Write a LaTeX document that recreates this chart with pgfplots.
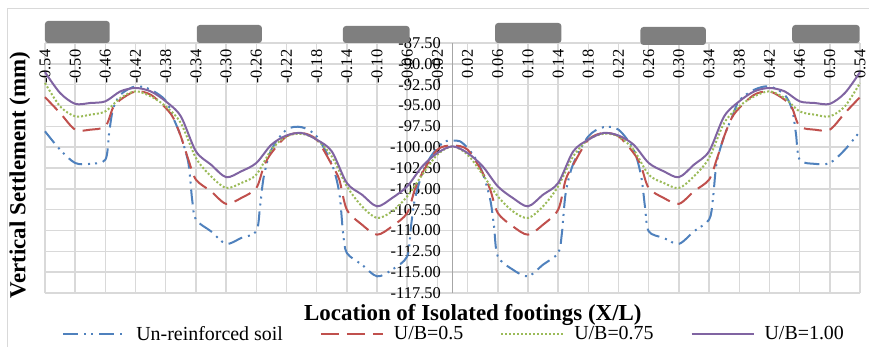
\documentclass[border=0pt]{standalone}
\usepackage{pgfplots}
\pgfplotsset{compat=1.18}
\usepackage{fontspec}
\setmainfont{Liberation Serif}
\definecolor{cblue}{HTML}{4F81BD}
\definecolor{cred}{HTML}{C0504D}
\definecolor{cgreen}{HTML}{9BBB59}
\definecolor{cpurple}{HTML}{8064A2}
\definecolor{gridc}{HTML}{D9D9D9}
\definecolor{axisc}{HTML}{A6A6A6}
\definecolor{footc}{HTML}{7F7F7F}
\begin{document}
\begin{tikzpicture}
\useasboundingbox (0,0) rectangle (869bp,347bp);
\draw[color=gridc, line width=1bp] (7.5bp,0) -- (7.5bp,338.5bp) -- (869bp,338.5bp);
\begin{axis}[
 at={(45bp,54bp)}, anchor=south west, scale only axis,
 width=815bp, height=250bp,
 xmin=-0.54, xmax=0.54, ymin=-117.5, ymax=-87.5,
 clip=false,
 axis line style={draw=none},
 major tick length=0pt,
 xtick={-0.54,-0.50,-0.46,-0.42,-0.38,-0.34,-0.30,-0.26,-0.22,-0.18,-0.14,-0.10,-0.06,-0.02,0.02,0.06,0.10,0.14,0.18,0.22,0.26,0.30,0.34,0.38,0.42,0.46,0.50,0.54},
 ytick={-117.5,-115,-112.5,-110,-107.5,-105,-102.5,-100,-97.5,-95,-92.5,-90,-87.5},
 grid=major,
 major grid style={color=gridc, line width=1.5bp},
 extra x ticks={0}, extra x tick labels={},
 extra x tick style={major grid style={color=axisc, line width=1.5bp}},
 scaled ticks=false,
 /pgf/number format/fixed,
 /pgf/number format/fixed zerofill,
 /pgf/number format/precision=2,
 /pgf/number format/assume math mode=true,
 tick label style={font=\fontsize{16.5}{18}\selectfont},
 xticklabel pos=upper,
 xticklabel style={rotate=90, anchor=east, inner xsep=6.5bp},
 ytick pos=left,
 yticklabel style={anchor=east, inner sep=0pt, xshift=396bp},
 legend style={at={(axis description cs:0.502,-0.164)}, anchor=center, draw=none, fill=none,
   font=\fontsize{20}{22}\selectfont, legend columns=4,
   /tikz/every even column/.append style={column sep=35bp}},
 legend cell align=left,
 legend image code/.code={\draw[#1] (0bp,0bp) -- (62bp,0bp); \path (70bp,0bp);},
]
\addplot[color=cblue, line width=2bp, smooth, dash pattern=on 15bp off 6bp on 2bp off 5bp on 2bp off 6bp] table {
-0.54 -98.1
-0.52 -100.3
-0.50 -101.9
-0.48 -102.0
-0.46 -101.5
-0.455 -98.3
-0.45 -95.5
-0.44 -93.7
-0.42 -92.7
-0.40 -93.1
-0.38 -94.4
-0.37 -96.5
-0.36 -98.7
-0.35 -101.9
-0.345 -106.3
-0.34 -108.7
-0.32 -110.1
-0.30 -111.6
-0.28 -110.9
-0.26 -110.1
-0.255 -107.1
-0.25 -103.5
-0.24 -100.3
-0.22 -97.9
-0.20 -97.6
-0.18 -98.7
-0.16 -102.0
-0.15 -105.5
-0.145 -110.3
-0.14 -112.7
-0.12 -114.1
-0.10 -115.5
-0.08 -114.7
-0.06 -113.1
-0.055 -109.5
-0.05 -106.3
-0.04 -103.1
-0.03 -101.3
-0.02 -100.1
-0.01 -99.3
0 -99.2
0.01 -99.3
0.02 -100.1
0.03 -101.3
0.04 -103.1
0.05 -106.3
0.055 -109.5
0.06 -113.1
0.08 -114.7
0.10 -115.5
0.12 -114.1
0.14 -112.7
0.145 -110.3
0.15 -105.5
0.16 -102.0
0.18 -98.7
0.20 -97.6
0.22 -97.9
0.24 -100.3
0.25 -103.5
0.255 -107.1
0.26 -110.1
0.28 -110.9
0.30 -111.6
0.32 -110.1
0.34 -108.7
0.345 -106.3
0.35 -101.9
0.36 -98.7
0.37 -96.5
0.38 -94.4
0.40 -93.1
0.42 -92.7
0.44 -93.7
0.45 -95.5
0.455 -98.3
0.46 -101.5
0.48 -102.0
0.50 -101.9
0.52 -100.3
0.54 -98.1
};
\addlegendentry{Un-reinforced soil}
\addplot[color=cred, line width=2bp, smooth, dash pattern=on 18bp off 8bp] table {
-0.54 -94.0
-0.52 -95.9
-0.50 -97.9
-0.48 -97.9
-0.46 -97.5
-0.45 -95.3
-0.44 -94.3
-0.42 -93.3
-0.40 -93.7
-0.38 -95.3
-0.37 -96.5
-0.36 -98.7
-0.35 -101.5
-0.34 -103.9
-0.32 -105.3
-0.30 -106.8
-0.28 -106.1
-0.26 -104.9
-0.25 -102.3
-0.24 -100.7
-0.22 -98.7
-0.20 -98.3
-0.18 -99.1
-0.16 -102.1
-0.15 -103.9
-0.14 -107.5
-0.12 -109.3
-0.10 -110.5
-0.08 -109.5
-0.06 -107.9
-0.05 -105.1
-0.04 -103.1
-0.02 -100.3
0 -99.8
0.02 -100.3
0.04 -103.1
0.05 -105.1
0.06 -107.9
0.08 -109.5
0.10 -110.5
0.12 -109.3
0.14 -107.5
0.15 -103.9
0.16 -102.1
0.18 -99.1
0.20 -98.3
0.22 -98.7
0.24 -100.7
0.25 -102.3
0.26 -104.9
0.28 -106.1
0.30 -106.8
0.32 -105.3
0.34 -103.9
0.35 -101.5
0.36 -98.7
0.37 -96.5
0.38 -95.3
0.40 -93.7
0.42 -93.3
0.44 -94.3
0.45 -95.3
0.46 -97.5
0.48 -97.9
0.50 -97.9
0.52 -95.9
0.54 -94.0
};
\addlegendentry{U/B=0.5}
\addplot[color=cgreen, line width=2bp, smooth, dash pattern=on 2bp off 2bp] table {
-0.54 -92.3
-0.52 -95.1
-0.50 -96.3
-0.48 -96.1
-0.46 -95.7
-0.44 -94.1
-0.42 -93.3
-0.40 -93.9
-0.38 -95.1
-0.36 -97.1
-0.34 -101.3
-0.32 -103.5
-0.30 -104.9
-0.28 -104.3
-0.26 -103.3
-0.24 -100.3
-0.22 -98.7
-0.20 -98.4
-0.18 -99.1
-0.16 -101.1
-0.14 -104.7
-0.12 -107.1
-0.10 -108.5
-0.08 -107.7
-0.06 -105.9
-0.04 -103.3
-0.02 -100.9
0 -99.9
0.02 -100.9
0.04 -103.3
0.06 -105.9
0.08 -107.7
0.10 -108.5
0.12 -107.1
0.14 -104.7
0.16 -101.1
0.18 -99.1
0.20 -98.4
0.22 -98.7
0.24 -100.3
0.26 -103.3
0.28 -104.3
0.30 -104.9
0.32 -103.5
0.34 -101.3
0.36 -97.1
0.38 -95.1
0.40 -93.9
0.42 -93.3
0.44 -94.1
0.46 -95.7
0.48 -96.1
0.50 -96.3
0.52 -95.1
0.54 -92.3
};
\addlegendentry{U/B=0.75}
\addplot[color=cpurple, line width=2bp, smooth] table {
-0.54 -91.0
-0.52 -93.5
-0.50 -94.8
-0.48 -94.7
-0.46 -94.5
-0.44 -93.3
-0.42 -92.9
-0.40 -93.3
-0.38 -94.5
-0.36 -96.3
-0.34 -100.5
-0.32 -102.1
-0.30 -103.6
-0.28 -102.9
-0.26 -101.9
-0.24 -99.7
-0.22 -98.6
-0.20 -98.3
-0.18 -99.1
-0.16 -100.5
-0.14 -104.3
-0.12 -105.7
-0.10 -107.1
-0.08 -106.1
-0.06 -104.7
-0.04 -102.3
-0.02 -100.7
0 -99.9
0.02 -100.7
0.04 -102.3
0.06 -104.7
0.08 -106.1
0.10 -107.1
0.12 -105.7
0.14 -104.3
0.16 -100.5
0.18 -99.1
0.20 -98.3
0.22 -98.6
0.24 -99.7
0.26 -101.9
0.28 -102.9
0.30 -103.6
0.32 -102.1
0.34 -100.5
0.36 -96.3
0.38 -94.5
0.40 -93.3
0.42 -92.9
0.44 -93.3
0.46 -94.5
0.48 -94.7
0.50 -94.8
0.52 -93.5
0.54 -91.0
};
\addlegendentry{U/B=1.00}
\addplot[fill=footc, draw=none, rounded corners=3bp, forget plot] coordinates {(-0.54,-87.5) (-0.54,-84.86) (-0.4542,-84.86) (-0.4542,-87.5)} -- cycle;
\addplot[fill=footc, draw=none, rounded corners=3bp, forget plot] coordinates {(-0.3389,-87.5) (-0.3389,-85.34) (-0.2526,-85.34) (-0.2526,-87.5)} -- cycle;
\addplot[fill=footc, draw=none, rounded corners=3bp, forget plot] coordinates {(-0.1452,-87.5) (-0.1452,-85.46) (-0.0568,-85.46) (-0.0568,-87.5)} -- cycle;
\addplot[fill=footc, draw=none, rounded corners=3bp, forget plot] coordinates {(0.0564,-87.5) (0.0564,-85.10) (0.1443,-85.10) (0.1443,-87.5)} -- cycle;
\addplot[fill=footc, draw=none, rounded corners=3bp, forget plot] coordinates {(0.2491,-87.74) (0.2491,-85.58) (0.3358,-85.58) (0.3358,-87.74)} -- cycle;
\addplot[fill=footc, draw=none, rounded corners=3bp, forget plot] coordinates {(0.4502,-87.5) (0.4502,-85.34) (0.5396,-85.34) (0.5396,-87.5)} -- cycle;
\node[font=\fontsize{23}{26}\selectfont\bfseries] at (axis description cs:0.525,-0.088) {Location of Isolated footings (X/L)};
\node[rotate=90, font=\fontsize{23}{26}\selectfont\bfseries] at (axis description cs:-0.0307,0.472) {Vertical Settlement (mm)};
\end{axis}
\end{tikzpicture}
\end{document}
